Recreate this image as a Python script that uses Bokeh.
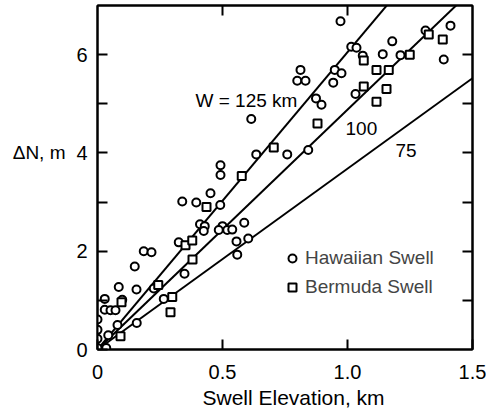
from bokeh.plotting import figure
from bokeh.layouts import row
from bokeh.models import LinearAxis, FixedTicker, Label, Legend, LegendItem, ColumnDataSource, Title
from bokeh.embed import file_html
from bokeh.resources import INLINE

# Hawaiian Swell (circles)
haw_x = [0.0, 0.0, 0.0, 0.0, 0.035, 0.043, 0.08, 0.157, 0.029, 0.052, 0.072, 0.029,
         0.085, 0.099, 0.156, 0.149, 0.225, 0.265, 0.185, 0.216, 0.348, 0.325, 0.339,
         0.395, 0.452, 0.491, 0.492, 0.492, 0.41, 0.429, 0.425, 0.5, 0.485, 0.519,
         0.539, 0.587, 0.556, 0.603, 0.559, 0.615, 0.635, 0.759, 0.843, 0.812, 0.799,
         0.832, 0.874, 0.896, 0.972, 1.015, 1.036, 1.061, 0.949, 0.976, 0.943, 1.032,
         1.179, 1.141, 1.212, 1.312, 1.412, 1.385]
haw_y = [0.61, 0.40, 0.22, 0.03, 0.03, 0.29, 0.50, 0.54, 0.81, 0.80, 0.80, 1.03,
         1.27, 1.01, 1.22, 1.69, 1.24, 1.03, 2.00, 1.98, 1.54, 2.18, 3.01,
         2.99, 3.18, 2.94, 3.75, 3.55, 2.55, 2.51, 2.41, 2.51, 2.43, 2.43,
         2.44, 2.58, 2.20, 2.26, 1.93, 4.69, 3.97, 3.97, 4.06, 5.69, 5.47,
         5.47, 5.11, 4.98, 6.68, 6.16, 6.14, 5.98, 5.69, 5.62, 5.43, 5.20,
         6.27, 6.01, 5.99, 6.49, 6.59, 5.90]

# Bermuda Swell (squares)
ber_x = [0.0, 0.092, 0.096, 0.243, 0.299, 0.292, 0.38, 0.352, 0.379, 0.436, 0.577,
         0.705, 0.88, 1.065, 1.065, 1.116, 1.156, 1.116, 1.165, 1.249, 1.325, 1.381]
ber_y = [-0.13, 0.27, 0.96, 1.31, 1.07, 0.76, 1.83, 2.12, 2.22, 2.90, 3.53,
         4.11, 4.60, 5.88, 5.35, 5.04, 5.30, 5.69, 5.69, 6.00, 6.41, 6.31]

# Model lines (slope of dN vs elevation for each W)
line_slopes = [6.05, 4.88, 3.68]
line_labels = ["W = 125 km", "100", "75"]
label_x = [0.392, 0.992, 1.192]
label_y = [5.06, 4.49, 4.04]

x_ticks = [0, 0.5, 1.0, 1.5]
x_tick_labels = ["0", "0.5", "1.0", "1.5"]
y_ticks = [0, 2, 4, 6]
y_minor = [1, 3, 5]
top_ticks = [0.5, 1.0]
right_ticks = [1, 2, 3, 4, 5, 6]
y_title = "\u0394N, m"
y_title_at = 4
x_title = "Swell Elevation, km"

FONT = "Liberation Sans"
H = 415
LEFT_W = 70

p = figure(width=486 - LEFT_W, height=H, x_range=(0, 1.5), y_range=(0, 7),
           output_backend="svg", toolbar_location=None,
           min_border_left=97 - LEFT_W, min_border_right=14, min_border_top=5,
           min_border_bottom=66)
p.xgrid.visible = False
p.ygrid.visible = False
p.outline_line_color = "black"
p.outline_line_width = 2
p.background_fill_color = "white"

for s in line_slopes:
    p.line([0, 1.5], [0, s * 1.5], line_color="black", line_width=2)

src_h = ColumnDataSource(dict(x=haw_x, y=haw_y))
src_b = ColumnDataSource(dict(x=ber_x, y=ber_y))
r_h = p.scatter("x", "y", source=src_h, marker="circle", size=8, line_color="black",
                line_width=2, fill_color="white")
r_b = p.scatter("x", "y", source=src_b, marker="square", size=8, line_color="black",
                line_width=2, fill_color="white")

def style_axis(ax):
    ax.axis_line_width = 2
    ax.axis_line_color = "black"
    ax.major_tick_in = 10
    ax.major_tick_out = 0
    ax.major_tick_line_width = 2
    ax.minor_tick_in = 10
    ax.minor_tick_out = 0
    ax.minor_tick_line_width = 2
    ax.major_label_text_font = FONT
    ax.major_label_text_font_size = "20px"
    ax.major_label_text_color = "black"

xa = p.xaxis[0]
style_axis(xa)
xa.ticker = FixedTicker(ticks=x_ticks, minor_ticks=[])
xa.major_label_overrides = {t: l for t, l in zip(x_ticks, x_tick_labels)}
xa.major_label_standoff = 15

p.add_layout(Title(text=x_title, align="left", offset=105, standoff=4,
                   text_font=FONT, text_font_size="21px", text_font_style="normal",
                   text_color="black"), "below")

ya = p.yaxis[0]
style_axis(ya)
ya.ticker = FixedTicker(ticks=y_ticks, minor_ticks=y_minor)
ya.major_label_standoff = 10

# Top and right axes carry only (unlabelled) inside ticks
top = LinearAxis(ticker=FixedTicker(ticks=[], minor_ticks=top_ticks))
style_axis(top)
p.add_layout(top, "above")

right = LinearAxis(ticker=FixedTicker(ticks=[], minor_ticks=right_ticks))
style_axis(right)
p.add_layout(right, "right")

for t, lx, ly in zip(line_labels, label_x, label_y):
    p.add_layout(Label(x=lx, y=ly, text=t, text_font=FONT, text_font_size="19px",
                       text_baseline="middle", text_align="left", text_color="black"))

legend = Legend(items=[LegendItem(label="Hawaiian Swell", renderers=[r_h]),
                       LegendItem(label="Bermuda Swell", renderers=[r_b])],
                location=(185, 51), glyph_width=20, glyph_height=20, label_standoff=3,
                label_text_font=FONT, label_text_font_size="19px", spacing=7,
                padding=0, margin=0, border_line_color=None, background_fill_alpha=0)
p.add_layout(legend)

# Narrow companion panel (shares the y range) holding the horizontal y-axis title
q = figure(width=LEFT_W, height=H, x_range=(0, LEFT_W), y_range=p.y_range,
           output_backend="svg", toolbar_location=None,
           min_border_left=0, min_border_right=0, min_border_top=5, min_border_bottom=66)
q.axis.visible = False
q.xgrid.visible = False
q.ygrid.visible = False
q.outline_line_color = None
q.add_layout(Label(x=LEFT_W - 5, y=y_title_at, text=y_title, text_font=FONT,
                   text_font_size="19px", text_baseline="middle", text_align="right",
                   text_color="black"))

layout = row(q, p, spacing=0)
open("out.html", "w").write(file_html(layout, INLINE))
